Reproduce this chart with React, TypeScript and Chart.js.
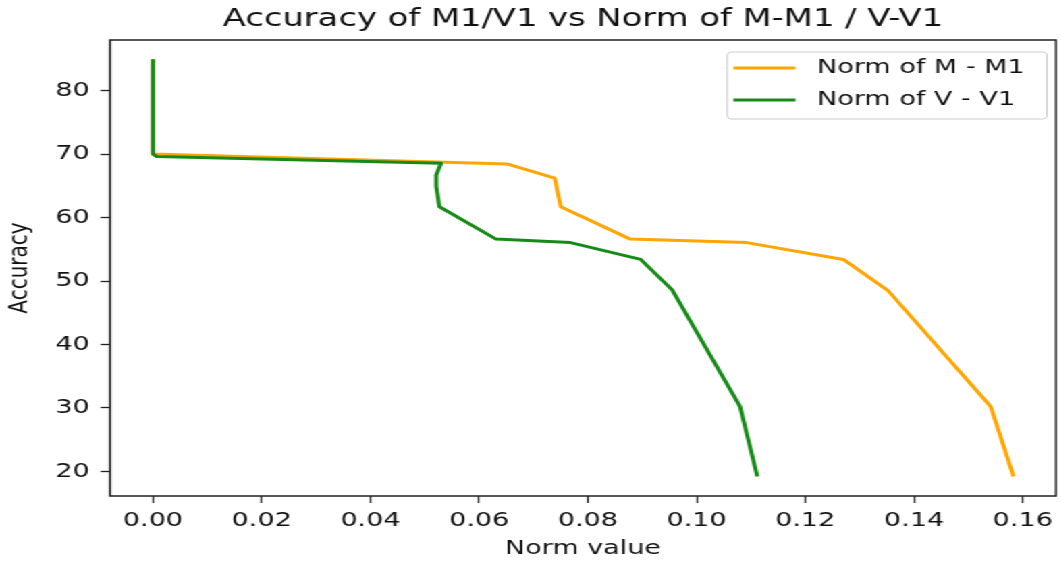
import React, { useEffect, useRef } from "react";
import { Chart, registerables } from "chart.js";

Chart.register(...registerables);

// ---- data ----
const TITLE = "Accuracy of M1/V1 vs Norm of M-M1 / V-V1";
const X_LABEL = "Norm value";
const Y_LABEL = "Accuracy";
const SERIES_LABELS = ["Norm of M - M1", "Norm of V - V1"];
const SERIES_COLORS = ["#FFA500", "#168a16"];

const normM = [0, 0, 0.0651, 0.0739, 0.075, 0.0878, 0.1092, 0.127, 0.1352, 0.1541, 0.1582];
const accM = [84.7, 70.0, 68.45, 66.2, 61.7, 56.6, 56.05, 53.4, 48.5, 30.2, 19.45];

const normV = [0, 0, 0.0007, 0.053, 0.0521, 0.0521, 0.0527, 0.0631, 0.0768, 0.0897, 0.0955, 0.108, 0.1111];
const accV = [84.7, 70.0, 69.6, 68.55, 66.7, 64.9, 61.7, 56.6, 56.05, 53.4, 48.6, 30.2, 19.45];

const X_TICKS = [0, 0.02, 0.04, 0.06, 0.08, 0.1, 0.12, 0.14, 0.16];
const Y_TICKS = [20, 30, 40, 50, 60, 70, 80];
const X_RANGE = [-0.0079, 0.1661];
const Y_RANGE = [16.13, 87.97];

// ---- layout / style ----
const STRETCH = 1.35;
const CANVAS_W = 786;
const CANVAS_H = 565;
const FONT = '"DejaVu Sans", sans-serif';
const TEXT = "#111";
const SPINE = "#222";

const spinesPlugin = {
  id: "spines",
  afterDatasetsDraw(chart: any) {
    const { ctx, chartArea } = chart;
    ctx.save();
    ctx.strokeStyle = SPINE;
    ctx.lineWidth = 1.5;
    ctx.strokeRect(chartArea.left, chartArea.top, chartArea.right - chartArea.left, chartArea.bottom - chartArea.top);
    ctx.restore();
  },
};

const legendBoxPlugin = {
  id: "legendBox",
  afterDraw(chart: any) {
    const { ctx, chartArea } = chart;
    const datasets = chart.data.datasets;
    ctx.save();
    ctx.font = `20px ${FONT}`;
    const labels: string[] = datasets.map((d: any) => d.label);
    const textW = Math.max(...labels.map((l) => ctx.measureText(l).width));
    const padL = 4.5, lineLen = 46, gap = 16, padR = 16.5, padT = 16, rowH = 32;
    const w = padL + lineLen + gap + textW + padR;
    const h = padT + rowH * (labels.length - 1) + 19;
    const right = chartArea.right - 6.7;
    const left = right - w;
    const top = chartArea.top + 12;
    ctx.beginPath();
    (ctx as any).roundRect(left, top, w, h, 3);
    ctx.fillStyle = "rgba(255,255,255,0.8)";
    ctx.fill();
    ctx.strokeStyle = "#cccccc";
    ctx.lineWidth = 1;
    ctx.stroke();
    labels.forEach((label, i) => {
      const y = top + padT + i * rowH;
      ctx.beginPath();
      ctx.strokeStyle = datasets[i].borderColor;
      ctx.lineWidth = 3;
      ctx.moveTo(left + padL, y);
      ctx.lineTo(left + padL + lineLen, y);
      ctx.stroke();
      ctx.fillStyle = TEXT;
      ctx.textAlign = "left";
      ctx.textBaseline = "middle";
      ctx.fillText(label, left + padL + lineLen + gap, y);
    });
    ctx.restore();
  },
};

export default function App() {
  const ref = useRef<HTMLCanvasElement>(null);

  useEffect(() => {
    document.body.style.margin = "0";
    const mk = (xs: number[], ys: number[]) => xs.map((x, i) => ({ x, y: ys[i] }));
    const chart = new Chart(ref.current!, {
      type: "line",
      data: {
        datasets: [
          {
            label: SERIES_LABELS[0],
            data: mk(normM, accM),
            borderColor: SERIES_COLORS[0],
            backgroundColor: SERIES_COLORS[0],
            borderWidth: 3,
            pointRadius: 0,
            fill: false,
            tension: 0,
            borderJoinStyle: "round",
            borderCapStyle: "square",
            order: 1,
          },
          {
            label: SERIES_LABELS[1],
            data: mk(normV, accV),
            borderColor: SERIES_COLORS[1],
            backgroundColor: SERIES_COLORS[1],
            borderWidth: 3,
            pointRadius: 0,
            fill: false,
            tension: 0,
            borderJoinStyle: "round",
            borderCapStyle: "square",
            order: 0,
          },
        ],
      },
      options: {
        animation: false,
        responsive: true,
        maintainAspectRatio: false,
        events: [],
        layout: { padding: { left: 0, top: 0, right: 3.8, bottom: 0 } },
        plugins: {
          legend: { display: false },
          tooltip: { enabled: false },
          title: {
            display: true,
            text: TITLE,
            fullSize: false,
            color: TEXT,
            font: { family: FONT, size: 25, weight: "normal" },
            padding: { top: 4.6, bottom: 5.4 },
          },
        },
        scales: {
          x: {
            type: "linear",
            position: "bottom",
            min: X_RANGE[0],
            max: X_RANGE[1],
            afterBuildTicks: (s: any) => {
              s.ticks = X_TICKS.map((v) => ({ value: v }));
            },
            afterFit: (s: any) => {
              s.height = 69;
              s.paddingLeft = 0;
              s.paddingRight = 0;
            },
            ticks: {
              color: TEXT,
              font: { family: FONT, size: 20 },
              padding: 6,
              maxRotation: 0,
              autoSkip: false,
              callback: (v: any) => Number(v).toFixed(2),
            },
            grid: {
              display: true,
              drawOnChartArea: false,
              drawTicks: true,
              tickLength: 7,
              tickWidth: 1.3,
              tickColor: SPINE,
              color: SPINE,
            },
            border: { display: false },
            title: {
              display: true,
              text: X_LABEL,
              color: TEXT,
              font: { family: FONT, size: 20 },
              padding: { top: 0, bottom: 4 },
            },
          },
          y: {
            type: "linear",
            position: "left",
            min: Y_RANGE[0],
            max: Y_RANGE[1],
            afterBuildTicks: (s: any) => {
              s.ticks = Y_TICKS.map((v) => ({ value: v }));
            },
            afterFit: (s: any) => {
              s.width = 81.5;
              s.paddingTop = 0;
              s.paddingBottom = 0;
            },
            ticks: {
              color: TEXT,
              font: { family: FONT, size: 20 },
              padding: 8,
              autoSkip: false,
              callback: (v: any) => String(v),
            },
            grid: {
              display: true,
              drawOnChartArea: false,
              drawTicks: true,
              tickLength: 7,
              tickWidth: 1.3,
              tickColor: SPINE,
              color: SPINE,
            },
            border: { display: false },
            title: {
              display: true,
              text: Y_LABEL,
              color: TEXT,
              font: { family: FONT, size: 20 },
              padding: { top: 3, bottom: 0 },
            },
          },
        },
      },
      plugins: [spinesPlugin, legendBoxPlugin],
    } as any);
    return () => chart.destroy();
  }, []);

  return (
    <div
      style={{
        position: "fixed",
        left: 0,
        top: 0,
        width: CANVAS_W,
        height: CANVAS_H,
        transform: `scaleX(${STRETCH})`,
        transformOrigin: "0 0",
        background: "#fff",
      }}
    >
      <canvas ref={ref} />
    </div>
  );
}
